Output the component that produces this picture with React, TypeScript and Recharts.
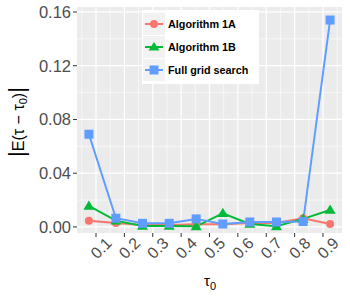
import React from 'react';
import { LineChart, Line, XAxis, YAxis, CartesianGrid } from 'recharts';

const tau = [0.075, 0.17, 0.264, 0.358, 0.453, 0.547, 0.642, 0.736, 0.83, 0.925];
const algo1A = [0.0047, 0.003, 0.0015, 0.0015, 0.002, 0.002, 0.003, 0.003, 0.0065, 0.0022];
const algo1B = [0.0156, 0.0047, 0.0007, 0.0007, 0.0005, 0.0102, 0.0022, 0.0005, 0.006, 0.0126];
const fullGrid = [0.069, 0.0065, 0.0027, 0.0027, 0.006, 0.0022, 0.0037, 0.0037, 0.004, 0.154];

const xTicks = [0.1, 0.2, 0.3, 0.4, 0.5, 0.6, 0.7, 0.8, 0.9];
const yTicks = [0, 0.04, 0.08, 0.12, 0.16];
const xMinor = [0.05, 0.15, 0.25, 0.35, 0.45, 0.55, 0.65, 0.75, 0.85, 0.95];
const yMinor = [0.02, 0.06, 0.1, 0.14];

const data = tau.map((x, i) => ({ x, a: algo1A[i], b: algo1B[i], f: fullGrid[i] }));

const RED = '#F8766D';
const GREEN = '#00BA38';
const BLUE = '#619CFF';
const FONT = '"Liberation Sans", Arial, sans-serif';

const Circle = (props: any) => {
  const { cx, cy, fill } = props;
  if (cx == null || cy == null) return null;
  return <circle cx={cx} cy={cy} r={4} fill={fill} />;
};

const Triangle = (props: any) => {
  const { cx, cy, fill } = props;
  if (cx == null || cy == null) return null;
  const s = 5.5;
  return <polygon points={`${cx},${cy - s} ${cx - s},${cy + s * 0.7} ${cx + s},${cy + s * 0.7}`} fill={fill} />;
};

const Square = (props: any) => {
  const { cx, cy, fill } = props;
  if (cx == null || cy == null) return null;
  return <rect x={cx - 4.5} y={cy - 4.5} width={9} height={9} fill={fill} />;
};

const XTick = (props: any) => {
  const { x, y, payload } = props;
  return (
    <g transform={`translate(${x + 6},${y + 10})`}>
      <text transform="rotate(-45)" textAnchor="middle" dominantBaseline="middle" fill="#4D4D4D" fontSize={16} fontFamily={FONT}>
        {payload.value.toFixed(1)}
      </text>
    </g>
  );
};

const legendItems = [
  { name: 'Algorithm 1A', color: RED, shape: 'circle' },
  { name: 'Algorithm 1B', color: GREEN, shape: 'triangle' },
  { name: 'Full grid search', color: BLUE, shape: 'square' },
];

const LegendBox = () => (
  <div style={{ position: 'absolute', left: 142, top: 10, background: '#fff', width: 116, padding: '2px 0 3px 1px', fontFamily: FONT }}>
    {legendItems.map((it) => (
      <div key={it.name} style={{ display: 'flex', alignItems: 'center', height: 23 }}>
        <svg width={22} height={22} style={{ background: '#F2F2F2', display: 'block' }}>
          <line x1={2} x2={20} y1={11} y2={11} stroke={it.color} strokeWidth={2} />
          {it.shape === 'circle' && <circle cx={11} cy={11} r={4} fill={it.color} />}
          {it.shape === 'triangle' && <polygon points="11,6 5.5,14.5 16.5,14.5" fill={it.color} />}
          {it.shape === 'square' && <rect x={6.5} y={6.5} width={9} height={9} fill={it.color} />}
        </svg>
        <span style={{ marginLeft: 3, fontSize: 10.8, fontWeight: 'bold', color: '#000' }}>{it.name}</span>
      </div>
    ))}
  </div>
);

const Titles = () => (
  <svg width={350} height={300} style={{ position: 'absolute', left: 0, top: 0, pointerEvents: 'none' }}>
    <text x={210} y={286} textAnchor="middle" fontFamily={FONT} fontSize={15} fill="#000">
      τ<tspan fontSize={11} dy={4}>0</tspan>
    </text>
    <text transform="translate(24,122) rotate(-90)" textAnchor="middle" fontFamily={FONT} fontSize={16} fill="#000">
      <tspan fontSize={22}>|</tspan>E(τ − τ<tspan fontSize={11} dy={3}>0</tspan>
      <tspan dy={-3}>)</tspan>
      <tspan fontSize={22}>|</tspan>
    </text>
  </svg>
);

export default function App() {
  return (
    <div style={{ position: 'absolute', left: 0, top: 0, width: 350, height: 300, background: '#fff' }}>
      <LineChart width={350} height={300} data={data} margin={{ top: 7, right: 8, bottom: 0, left: 0 }}>
        <CartesianGrid fill="#EBEBEB" stroke="#fff" strokeWidth={0.6} horizontalValues={yMinor} verticalValues={xMinor} />
        <CartesianGrid stroke="#fff" strokeWidth={1.2} horizontalValues={yTicks} verticalValues={xTicks} />
        <XAxis
          dataKey="x"
          type="number"
          domain={[0.033, 0.967]}
          ticks={xTicks}
          axisLine={false}
          tickLine={{ stroke: '#333' }}
          tickSize={4}
          height={67}
          interval={0}
          tick={<XTick />}
        />
        <YAxis
          type="number"
          domain={[-0.0045, 0.1637]}
          ticks={yTicks}
          axisLine={false}
          tickLine={{ stroke: '#333' }}
          tickSize={4}
          width={77}
          tickFormatter={(v: number) => v.toFixed(2)}
          tick={{ fill: '#4D4D4D', fontSize: 16.5, fontFamily: FONT }}
        />
        <Line dataKey="a" stroke={RED} strokeWidth={2} dot={<Circle />} fill={RED} isAnimationActive={false} />
        <Line dataKey="b" stroke={GREEN} strokeWidth={2} dot={<Triangle />} fill={GREEN} isAnimationActive={false} />
        <Line dataKey="f" stroke={BLUE} strokeWidth={2} dot={<Square />} fill={BLUE} isAnimationActive={false} />
      </LineChart>
      <LegendBox />
      <Titles />
    </div>
  );
}
